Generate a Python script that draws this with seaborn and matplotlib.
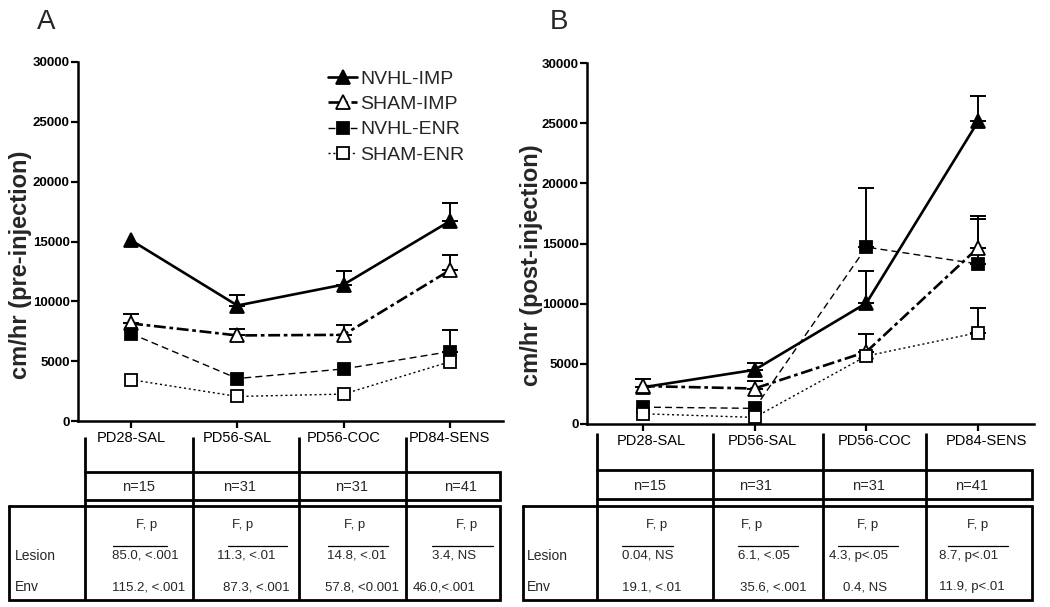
import numpy as np
import pandas as pd
import matplotlib
matplotlib.use("Agg")
import matplotlib.pyplot as plt
import seaborn as sns
from matplotlib.transforms import ScaledTranslation

# ---------------- data ----------------
categories = ["PD28-SAL", "PD56-SAL", "PD56-COC", "PD84-SENS"]
groups = ["NVHL-IMP", "SHAM-IMP", "NVHL-ENR", "SHAM-ENR"]

# Panel A: pre-injection (mean, upper SEM)
pre_nvhl_imp = [15100, 9650, 11400, 16700]
pre_nvhl_imp_err = [0, 900, 1100, 1500]
pre_sham_imp = [8150, 7150, 7200, 12600]
pre_sham_imp_err = [800, 500, 850, 1300]
pre_nvhl_enr = [7300, 3550, 4350, 5800]
pre_nvhl_enr_err = [0, 0, 0, 1800]
pre_sham_enr = [3450, 2050, 2250, 4950]
pre_sham_enr_err = [0, 0, 0, 0]

# Panel B: post-injection
post_nvhl_imp = [3050, 4500, 10050, 25150]
post_nvhl_imp_err = [700, 550, 2650, 2100]
post_sham_imp = [3150, 2950, 6000, 14650]
post_sham_imp_err = [0, 650, 1450, 2600]
post_nvhl_enr = [1400, 1300, 14700, 13300]
post_nvhl_enr_err = [0, 0, 4950, 3750]
post_sham_enr = [850, 550, 5650, 7600]
post_sham_enr_err = [0, 0, 0, 2000]

n_labels = ["n=15", "n=31", "n=31", "n=41"]
stat_header = "F, p"
row_labels = ["Lesion", "Env"]
pre_lesion = ["85.0, <.001", "11.3, <.01", "14.8, <.01", "3.4, NS"]
pre_env = ["115.2, <.001", "87.3, <.001", "57.8, <0.001", "46.0,<.001"]
post_lesion = ["0.04, NS", "6.1, <.05", "4.3, p<.05", "8.7, p<.01"]
post_env = ["19.1, <.01", "35.6, <.001", "0.4, NS", "11.9, p<.01"]

ytick_vals = [0, 5000, 10000, 15000, 20000, 25000, 30000]

# ---------------- style ----------------
sns.set_style("ticks")
plt.rcParams["font.family"] = ["Liberation Sans", "DejaVu Sans"]

styles = {
    "NVHL-IMP": dict(marker="^", mfc="black", ms=10.5, lw=1.9, ls="-"),
    "SHAM-IMP": dict(marker="^", mfc="white", ms=10.5, lw=1.9, ls=(0, (4.5, 1.4, 1.4, 1.4))),
    "NVHL-ENR": dict(marker="s", mfc="black", ms=9, lw=1.0, ls=(0, (5, 3))),
    "SHAM-ENR": dict(marker="s", mfc="white", ms=9, lw=1.0, ls=(0, (1.5, 2))),
}

W, H = 1050, 607
fig = plt.figure(figsize=(W / 100, H / 100), dpi=100)
fig.patch.set_facecolor("white")


def px_axes(left, right, top, bottom):
    return fig.add_axes([left / W, 1 - bottom / H, (right - left) / W, (bottom - top) / H])


axA = px_axes(78, 503, 62, 421)
axB = px_axes(587, 1034, 63, 424)

panels = [
    (axA, [pre_nvhl_imp, pre_sham_imp, pre_nvhl_enr, pre_sham_enr],
     [pre_nvhl_imp_err, pre_sham_imp_err, pre_nvhl_enr_err, pre_sham_enr_err],
     "cm/hr (pre-injection)"),
    (axB, [post_nvhl_imp, post_sham_imp, post_nvhl_enr, post_sham_enr],
     [post_nvhl_imp_err, post_sham_imp_err, post_nvhl_enr_err, post_sham_enr_err],
     "cm/hr (post-injection)"),
]

xpos = np.arange(len(categories))
for ax, vals, errs, ylab in panels:
    for g, v, e in zip(groups, vals, errs):
        st = styles[g]
        v = np.asarray(v, float)
        e = np.asarray(e, float)
        m = e > 0
        if m.any():
            ax.errorbar(xpos[m], v[m], yerr=[np.zeros(m.sum()), e[m]], fmt="none",
                        ecolor="black", elinewidth=1.4, capsize=5.5, capthick=1.4, zorder=2)
        df = pd.DataFrame({"x": xpos, "y": v})
        sns.lineplot(data=df, x="x", y="y", ax=ax, color="black", label=g,
                     marker=st["marker"], markersize=st["ms"], markerfacecolor=st["mfc"],
                     markeredgecolor="black", markeredgewidth=1.3, linewidth=st["lw"],
                     linestyle=st["ls"], errorbar=None, sort=False, zorder=3, legend=False)
    ax.set_xlim(-0.5, 3.5)
    ax.set_ylim(0, 30000)
    ax.set_yticks(ytick_vals)
    ax.set_yticklabels([str(t) for t in ytick_vals], fontsize=9.5, fontweight="bold")
    ax.set_xticks(xpos)
    ax.set_xticklabels(categories, fontsize=10.5)
    ax.tick_params(axis="both", direction="out", length=5, width=1.6, colors="black", pad=1)
    ax.tick_params(axis="x", pad=2)
    for sp in ["top", "right"]:
        ax.spines[sp].set_visible(False)
    for sp in ["left", "bottom"]:
        ax.spines[sp].set_linewidth(1.8)
        ax.spines[sp].set_color("black")
    ax.set_xlabel("")
    ax.set_ylabel(ylab, fontsize=17, fontweight="bold")
    ax.yaxis.set_label_coords(-0.108, 0.435)
    ax.set_facecolor("none")

axB.yaxis.set_label_coords(-0.098, 0.44)
for lab in axB.get_xticklabels():
    lab.set_transform(lab.get_transform() + ScaledTranslation(8 / 100, 0, fig.dpi_scale_trans))

# overlay in pixel coordinates for panel letters and tables
ov = fig.add_axes([0, 0, 1, 1])
ov.set_xlim(0, W)
ov.set_ylim(H, 0)
ov.axis("off")

hs = [h for h in axA.get_lines() if h.get_label() in groups]
leg = axA.legend(hs, groups, loc="upper left", bbox_to_anchor=(328, 70),
                 bbox_transform=ov.transData, frameon=False, fontsize=14,
                 handlelength=1.5, handletextpad=0.15, labelspacing=0.4,
                 borderpad=0, borderaxespad=0, numpoints=1)

ov.text(37, 29, "A", fontsize=20, ha="left", va="baseline")
ov.text(550, 29, "B", fontsize=20, ha="left", va="baseline")

LW = 2.0


def table(col_lines, right, stats_left, n_top, n_bot, st_top, bottom, v_top,
          n_x, fp_x, over, les_x, env_x, les, env, label_x):
    for x in col_lines:
        ov.plot([x, x], [v_top, bottom], color="black", lw=LW, solid_capstyle="butt")
    # n box
    ov.plot([col_lines[0], right, right, col_lines[0]], [n_top, n_top, n_bot, n_bot],
            color="black", lw=LW, solid_joinstyle="miter")
    # stats box
    ov.plot([stats_left, right, right, stats_left, stats_left],
            [st_top, st_top, bottom, bottom, st_top], color="black", lw=LW,
            solid_joinstyle="miter")
    for x, t in zip(n_x, n_labels):
        ov.text(x, (n_top + n_bot) / 2 + 1, t, fontsize=10.5, ha="center", va="center")
    for x in fp_x:
        ov.text(x, 525, stat_header, fontsize=9.5, ha="center", va="center")
    for (a, b) in over:
        ov.plot([a, b], [545.5, 545.5], color="black", lw=0.9)
    for x, t in zip(les_x, les):
        ov.text(x, 556, t, fontsize=9.5, ha="left", va="center")
    for x, t in zip(env_x, env):
        ov.text(x, 587, t, fontsize=9.5, ha="left", va="center")
    ov.text(label_x, 556, row_labels[0], fontsize=10, ha="left", va="center")
    ov.text(label_x, 587, row_labels[1], fontsize=10, ha="left", va="center")


table([85, 193, 299, 406], 500, 9, 472, 500, 506, 600, 437,
      [139, 240, 352, 461], [147, 243, 355, 467],
      [(113, 167), (228, 287), (328, 388), (432, 493)],
      [112, 217, 327, 432], [112, 223, 325, 413], pre_lesion, pre_env, 15)

table([597, 713, 823, 926], 1032, 523, 470, 499, 506, 600, 433,
      [650, 756, 869, 972], [657, 752, 868, 978],
      [(622, 673), (738, 798), (838, 898), (948, 1008)],
      [622, 738, 829, 939], [622, 740, 843, 939], post_lesion, post_env, 527)

fig.savefig("out.png", dpi=100, facecolor="white")
